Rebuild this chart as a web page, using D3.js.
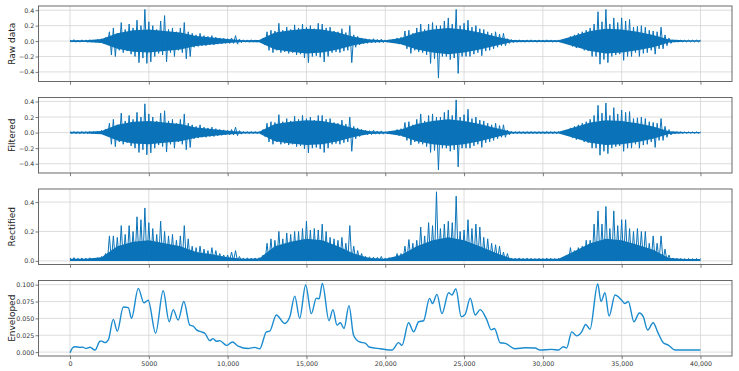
<!DOCTYPE html>
<html>
<head>
<meta charset="utf-8">
<script src="https://cdn.jsdelivr.net/npm/d3@7"></script>
<style>
  body { margin: 0; background: #fff; }
  text { font-family: "DejaVu Sans", sans-serif; }
</style>
</head>
<body>
<div id="vis"></div>
<script>
// Values.
// Signal panels: extreme high / low of each 250-sample bin, starting at sample 0.
var binStep = 250;

var rawHi = [
  .015, .018, .013, .016, .015, .017, .013, .02, .03, .045, .12, .17, .1, .24, .15, .22, .17, .27, .2, .41,
  .25, .2, .15, .26, .33, .15, .17, .12, .17, .24, .12, .1, .08, .1, .07, .06, .07, .05, .04, .035,
  .03, .04, .07, .025, .016, .015, .017, .015, .014, .04, .12, .14, .13, .23, .14, .18, .15, .21, .17, .22,
  .18, .2, .16, .23, .22, .17, .18, .13, .12, .16, .11, .2, .08, .06, .04, .03, .025, .03, .02, .025,
  .015, .016, .02, .04, .05, .13, .14, .1, .17, .22, .15, .22, .24, .2, .2, .26, .3, .22, .41, .2,
  .23, .27, .18, .2, .16, .15, .12, .1, .12, .09, .1, .03, .02, .015, .016, .014, .015, .016, .014, .015,
  .014, .016, .015, .014, .015, .016, .03, .06, .08, .1, .12, .14, .17, .22, .38, .25, .41, .22, .3, .24,
  .3, .26, .28, .18, .19, .2, .18, .14, .13, .12, .18, .08, .04, .015, .012, .012, .011, .012, .011, .012,
  .01
];
var rawLo = [
  -.014, -.016, -.015, -.013, -.016, -.014, -.015, -.018, -.03, -.04, -.18, -.2, -.12, -.15, -.13, -.17, -.2, -.28, -.22, -.29,
  -.27, -.2, -.16, -.18, -.27, -.15, -.2, -.12, -.15, -.23, -.2, -.08, -.07, -.06, -.06, -.05, -.05, -.04, -.035, -.03,
  -.03, -.03, -.04, -.02, -.015, -.016, -.014, -.015, -.016, -.05, -.12, -.15, -.12, -.15, -.14, -.16, -.15, -.18, -.17, -.22,
  -.28, -.2, -.19, -.21, -.27, -.2, -.15, -.14, -.15, -.13, -.12, -.28, -.08, -.05, -.03, -.03, -.025, -.02, -.02, -.02,
  -.015, -.015, -.02, -.04, -.05, -.1, -.16, -.12, -.14, -.15, -.18, -.29, -.23, -.48, -.2, -.2, -.24, -.22, -.42, -.2,
  -.2, -.2, -.17, -.15, -.19, -.13, -.12, -.1, -.08, -.06, -.06, -.03, -.02, -.015, -.014, -.016, -.015, -.014, -.016, -.014,
  -.015, -.014, -.016, -.015, -.014, -.015, -.04, -.07, -.09, -.08, -.12, -.13, -.2, -.2, -.3, -.24, -.28, -.2, -.18, -.17,
  -.25, -.2, -.2, -.15, -.2, -.16, -.15, -.12, -.17, -.1, -.1, -.06, -.03, -.013, -.012, -.011, -.012, -.011, -.012, -.011,
  -.01
];

var filtHi = [
  .012, .014, .011, .013, .012, .014, .011, .016, .028, .045, .12, .17, .1, .25, .15, .22, .17, .26, .2, .37,
  .24, .2, .15, .25, .28, .15, .17, .12, .17, .24, .12, .1, .08, .1, .07, .06, .07, .05, .04, .035,
  .03, .04, .07, .025, .013, .012, .014, .012, .012, .04, .12, .14, .13, .23, .14, .18, .15, .21, .17, .22,
  .18, .2, .16, .22, .22, .17, .18, .13, .12, .16, .11, .2, .08, .06, .04, .03, .025, .03, .02, .022,
  .012, .013, .016, .04, .05, .13, .14, .1, .17, .24, .15, .22, .24, .2, .2, .26, .29, .22, .42, .2,
  .23, .3, .18, .2, .16, .15, .12, .1, .12, .09, .1, .03, .016, .012, .013, .011, .012, .013, .011, .012,
  .011, .013, .012, .011, .012, .013, .03, .06, .08, .1, .12, .14, .17, .22, .35, .25, .38, .22, .32, .24,
  .29, .26, .27, .18, .19, .2, .18, .14, .13, .12, .18, .08, .04, .012, .01, .01, .009, .01, .009, .01,
  .009
];
var filtLo = [
  -.012, -.013, -.012, -.011, -.013, -.012, -.012, -.015, -.03, -.04, -.15, -.18, -.12, -.15, -.13, -.17, -.2, -.255, -.22, -.285,
  -.26, -.2, -.16, -.18, -.25, -.15, -.2, -.12, -.15, -.22, -.19, -.08, -.07, -.06, -.06, -.05, -.05, -.04, -.035, -.03,
  -.03, -.03, -.04, -.02, -.012, -.013, -.012, -.012, -.013, -.05, -.12, -.15, -.12, -.15, -.14, -.16, -.15, -.18, -.17, -.21,
  -.26, -.2, -.19, -.21, -.255, -.2, -.15, -.14, -.15, -.13, -.12, -.24, -.08, -.05, -.03, -.03, -.025, -.02, -.02, -.02,
  -.012, -.012, -.016, -.04, -.05, -.1, -.16, -.12, -.14, -.15, -.18, -.255, -.23, -.48, -.2, -.2, -.24, -.22, -.44, -.2,
  -.2, -.2, -.17, -.15, -.19, -.13, -.12, -.1, -.08, -.06, -.06, -.03, -.016, -.012, -.011, -.013, -.012, -.011, -.013, -.011,
  -.012, -.011, -.013, -.012, -.011, -.012, -.04, -.07, -.09, -.08, -.12, -.13, -.2, -.2, -.29, -.24, -.27, -.2, -.18, -.17,
  -.24, -.2, -.2, -.15, -.2, -.16, -.15, -.12, -.19, -.1, -.1, -.06, -.03, -.011, -.01, -.009, -.01, -.009, -.01, -.009,
  -.009
];

// rectified signal is >= 0, so only the bin maxima are listed
var rectHi = [
  .02, .022, .018, .02, .019, .021, .018, .022, .03, .05, .17, .17, .16, .24, .18, .24, .2, .3, .28, .36,
  .26, .22, .18, .27, .2, .17, .18, .14, .17, .24, .15, .1, .09, .1, .08, .07, .09, .07, .05, .04,
  .04, .06, .07, .03, .02, .021, .019, .02, .022, .04, .12, .15, .14, .2, .15, .19, .18, .2, .2, .22,
  .27, .21, .22, .21, .25, .2, .16, .15, .14, .16, .12, .24, .1, .07, .05, .03, .028, .025, .024, .03,
  .02, .022, .025, .05, .05, .1, .145, .12, .14, .23, .17, .26, .24, .47, .22, .25, .27, .26, .44, .2,
  .21, .28, .22, .25, .23, .16, .15, .12, .11, .1, .06, .05, .02, .018, .02, .017, .019, .018, .016, .018,
  .017, .019, .018, .016, .018, .02, .04, .09, .07, .09, .1, .14, .14, .25, .34, .25, .37, .22, .34, .24,
  .28, .28, .22, .2, .22, .2, .2, .12, .17, .12, .17, .08, .04, .02, .018, .017, .016, .017, .016, .017,
  .016
];

// solid band (where the trace is dense), every 1000 samples
var coreStep = 1000;
var rawCore = [
  .012, .012, .025, .1, .14, .15, .13, .11, .065, .045, .025, .012, .015, .11, .14, .16, .15, .11, .055, .02, .012,
  .04, .11, .15, .17, .15, .11, .06, .015, .012, .012, .012, .07, .13, .16, .15, .12, .08, .02, .01, .01
];
var filtCore = [
  .01, .01, .022, .1, .14, .15, .13, .11, .065, .045, .025, .01, .012, .11, .14, .16, .15, .11, .055, .018, .01,
  .04, .11, .15, .17, .15, .11, .06, .012, .01, .01, .01, .07, .13, .16, .15, .12, .08, .018, .009, .009
];
var rectCore = [
  .015, .015, .025, .1, .13, .14, .12, .1, .06, .045, .025, .015, .017, .1, .13, .15, .14, .1, .05, .02, .015,
  .04, .1, .14, .16, .14, .1, .055, .017, .015, .015, .015, .065, .12, .15, .14, .11, .075, .02, .013, .013
];

// envelope: turning points of the smooth curve
var envX = [
  0, 170, 317, 630, 800, 1010, 1267, 1584, 1900, 2006, 2218, 2430, 2745, 3000, 3380, 3700, 3900, 4330, 4690, 4960,
  5430, 5910, 6290, 6550, 6860, 7220, 7600, 7810, 8030, 8340, 8550, 8870, 9080, 9290, 9500, 9930, 10300, 10670, 11300, 11720,
  12040, 12460, 12670, 13090, 13620, 13940, 14260, 14570, 14950, 15310, 15630, 15800, 16010, 16430, 16680, 16940, 17150, 17380, 17700, 17990,
  18370, 18750, 18980, 19690, 20430, 20850, 21060, 21480, 21800, 22120, 22430, 22810, 23000, 23280, 23600, 24020, 24230, 24480, 24820, 25070,
  25390, 25710, 26020, 26450, 26720, 26930, 27290, 27610, 28240, 28870, 29510, 29820, 30560, 30990, 31300, 31510, 31830, 32150, 32460, 32720,
  32990, 33480, 33690, 33940, 34200, 34580, 35000, 35210, 35420, 35780, 36120, 36370, 36650, 37000, 37280, 37640, 37960, 38380, 39220, 40000
];
var envY = [
  -.001, .0065, .008, .007, .0074, .0055, .0072, .003, .016, .0163, .014, .018, .0485, .031, .067, .066, .05, .0945, .073, .077,
  .028, .091, .045, .063, .0475, .075, .04, .0386, .033, .03, .028, .017, .02, .016, .017, .01, .015, .009, .0054, .007,
  .005, .03, .031, .055, .0425, .052, .083, .05, .0995, .057, .08, .079, .102, .0465, .063, .04, .0436, .035, .069, .025,
  .015, .013, .0075, .005, .003, .014, .01, .0436, .03, .045, .0465, .0797, .072, .0856, .057, .088, .0847, .094, .0525, .056,
  .08, .055, .063, .0475, .033, .035, .0139, .013, .005, .0064, .006, .003, .004, .003, .008, .006, .03, .024, .03, .041,
  .0337, .101, .075, .088, .0535, .0847, .077, .072, .075, .045, .058, .0525, .0327, .0436, .03, .0139, .0104, .003, .003, .003
];

var panelNames = ['Raw data', 'Filtered', 'Rectified', 'Enveloped'];
var xTicks = [0, 5000, 10000, 15000, 20000, 25000, 30000, 35000, 40000];
var xTickLabels = ['0', '5000', '10,000', '15,000', '20,000', '25,000', '30,000', '35,000', '40,000'];
var signalTicks = [-0.4, -0.2, 0, 0.2, 0.4];
var rectTicks = [0, 0.2, 0.4];
var envTicks = [0, 0.025, 0.05, 0.075, 0.1];

// ---- layout ----
var width = 739;
var height = 371;
var left = 38.5, right = 732;
var panelH = 75.5;
var panelStep = 91.5;
var firstTop = 6;
var lineColor = '#0b73b8';
var envColor = '#1a8bcf';
var gridColor = '#d4d4d4';
var frameColor = '#5a5a5a';

var svg = d3.select('#vis').append('svg')
  .attr('width', width)
  .attr('height', height);

var x = d3.scaleLinear().domain([-2000, 42000]).range([left, right]);

// zig-zag through the bin extremes, which is how a dense trace looks
function zigzag(hi, lo) {
  var pts = [];
  hi.forEach(function (h, i) {
    var s = i * binStep;
    pts.push([s, h]);
    if (i < hi.length - 1) pts.push([s + binStep / 2, lo ? lo[i] : 0]);
  });
  return pts;
}

// core band -> [sample, top, bottom]
function band(core, symmetric) {
  return core.map(function (c, i) { return [i * coreStep, c, symmetric ? -c : 0]; });
}

var panels = [
  { name: panelNames[0], domain: [-0.5245, 0.4545], ticks: signalTicks, fmt: d3.format('.1f'),
    trace: zigzag(rawHi, rawLo), core: band(rawCore, true) },
  { name: panelNames[1], domain: [-0.519, 0.451], ticks: signalTicks, fmt: d3.format('.1f'),
    trace: zigzag(filtHi, filtLo), core: band(filtCore, true) },
  { name: panelNames[2], domain: [-0.0245, 0.489], ticks: rectTicks, fmt: d3.format('.1f'),
    trace: zigzag(rectHi, null), core: band(rectCore, false) },
  { name: panelNames[3], domain: [-0.0058, 0.1062], ticks: envTicks, fmt: d3.format('.3f'),
    trace: envX.map(function (d, i) { return [d, envY[i]]; }), smooth: true }
];

panels.forEach(function (p, i) {
  var top = firstTop + i * panelStep;
  var bottom = top + panelH;
  var y = d3.scaleLinear().domain(p.domain).range([bottom, top]);
  var g = svg.append('g');

  g.append('clipPath').attr('id', 'clip' + i)
    .append('rect')
    .attr('x', left).attr('y', top)
    .attr('width', right - left).attr('height', panelH);

  // grid
  g.selectAll('.vgrid').data(xTicks).enter().append('line')
    .attr('x1', function (d) { return x(d); })
    .attr('x2', function (d) { return x(d); })
    .attr('y1', top).attr('y2', bottom)
    .attr('stroke', gridColor).attr('stroke-width', 0.8);
  g.selectAll('.hgrid').data(p.ticks).enter().append('line')
    .attr('x1', left).attr('x2', right)
    .attr('y1', function (d) { return y(d); })
    .attr('y2', function (d) { return y(d); })
    .attr('stroke', gridColor).attr('stroke-width', 0.8);

  var line = d3.line()
    .x(function (d) { return x(d[0]); })
    .y(function (d) { return y(d[1]); });

  if (p.core) {
    var area = d3.area()
      .x(function (d) { return x(d[0]); })
      .y0(function (d) { return y(d[2]); })
      .y1(function (d) { return y(d[1]); });
    g.append('path')
      .datum(p.core)
      .attr('clip-path', 'url(#clip' + i + ')')
      .attr('d', area)
      .attr('fill', lineColor);
  }
  if (p.smooth) line.curve(d3.curveMonotoneX);

  g.append('path')
    .datum(p.trace)
    .attr('clip-path', 'url(#clip' + i + ')')
    .attr('d', line)
    .attr('fill', 'none')
    .attr('stroke', p.smooth ? envColor : lineColor)
    .attr('stroke-width', p.smooth ? 1.4 : 1.0)
    .attr('stroke-linejoin', 'miter');

  // frame
  g.append('rect')
    .attr('x', left).attr('y', top)
    .attr('width', right - left).attr('height', panelH)
    .attr('fill', 'none')
    .attr('stroke', frameColor).attr('stroke-width', 0.9);

  // axes
  var yAxis = g.append('g')
    .attr('transform', 'translate(' + left + ',0)')
    .call(d3.axisLeft(y).tickValues(p.ticks).tickFormat(p.fmt).tickSize(3).tickPadding(1.2));
  var xAxis = g.append('g')
    .attr('transform', 'translate(0,' + bottom + ')')
    .call(d3.axisBottom(x).tickValues(xTicks).tickSize(3.2).tickPadding(2.2)
      .tickFormat(function (d, k) { return i === panels.length - 1 ? xTickLabels[k] : ''; }));

  [yAxis, xAxis].forEach(function (a) {
    a.select('.domain').remove();
    a.selectAll('.tick line').attr('stroke', frameColor).attr('stroke-width', 0.8);
    a.selectAll('.tick text')
      .attr('fill', '#333')
      .style('font-family', '"DejaVu Sans", sans-serif')
      .style('font-size', '6.3px');
  });

  g.append('text')
    .attr('transform', 'translate(12,' + (top + panelH / 2) + ') rotate(-90)')
    .attr('text-anchor', 'middle')
    .attr('dy', '0.35em')
    .attr('fill', '#222')
    .style('font-size', '9px')
    .text(p.name);
});
</script>
</body>
</html>
